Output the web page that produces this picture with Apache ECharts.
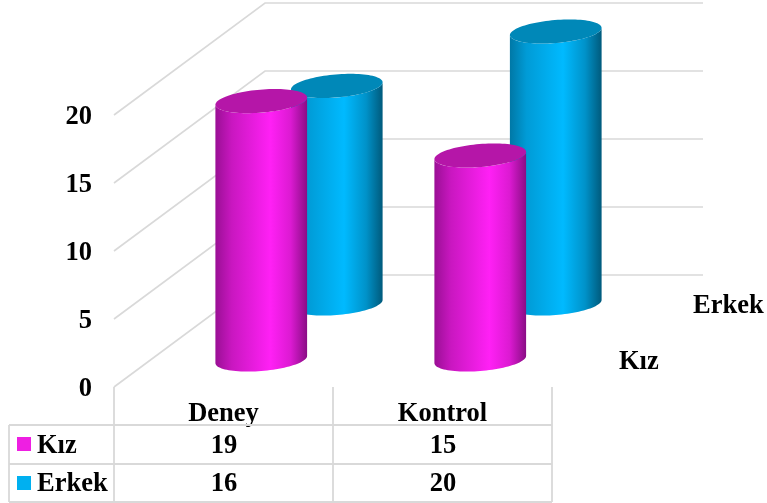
<!DOCTYPE html>
<html><head><meta charset="utf-8">
<style>html,body{margin:0;padding:0;background:#fff}#c{width:767px;height:503px}</style>
<script src="https://cdn.jsdelivr.net/npm/echarts@6/dist/echarts.min.js"></script>
</head><body><div id="c"></div>
<script>
var categories = ['Deney', 'Kontrol'];
var kiz = [19, 15];
var erkek = [16, 20];
var seriesNames = ['Kız', 'Erkek'];
var yTicks = [0, 5, 10, 15, 20];

var FONT = '"Liberation Serif"';
var FS = 26.5;
var DX = 151, DY = 112;          // depth of the 3D box
var GRID = '#d9d9d9';
var A = 46, B = 11.5, TILT = -4.8 * Math.PI / 180, CYL_DY = 0.5;
var styles = {
  'Kız': {key:'#EE1FE2', top:'#B516A8', stops:[[0,'#9a0f95'],[0.18,'#c917c0'],[0.6,'#ff20f5'],[0.82,'#dc1ad2'],[1,'#8a0d85']]},
  'Erkek': {key:'#00B0F0', top:'#0088B8', stops:[[0,'#0078a6'],[0.18,'#009bd6'],[0.58,'#00baff'],[0.82,'#0092c9'],[1,'#005a7c']]}
};
function ell(cx, cy, t){
  return [cx + A*Math.cos(t)*Math.cos(TILT) - B*Math.sin(t)*Math.sin(TILT),
          cy + A*Math.cos(t)*Math.sin(TILT) + B*Math.sin(t)*Math.cos(TILT)];
}
function cylinderSeries(name, values, depthFrac){
  var s = styles[name];
  return {
    type:'custom', name:name, coordinateSystem:'cartesian2d', silent:true,
    data: values.map(function(v,i){return [i,v];}),
    encode:{x:0,y:1},
    renderItem:function(params, api){
      var base = api.coord([api.value(0),0]);
      var top = api.coord([api.value(0),api.value(1)]);
      var ox = DX*depthFrac, oy = -DY*depthFrac + CYL_DY;
      var cx = base[0]+ox, by = base[1]+oy, ty = top[1]+oy;
      var tR = Math.atan(-(B/A)*Math.tan(TILT)), tL = tR+Math.PI, n = 48, i, pts = [], cap = [];
      for(i=0;i<=n;i++) pts.push(ell(cx,by,tR+(tL-tR)*i/n));
      for(i=n;i>=0;i--) pts.push(ell(cx,ty,tR+(tL-tR)*i/n));
      for(i=0;i<96;i++) cap.push(ell(cx,ty,2*Math.PI*i/96));
      return {type:'group',children:[
        {type:'polygon',shape:{points:pts},style:{fill:new echarts.graphic.LinearGradient(0,0,1,0,
          s.stops.map(function(x){return {offset:x[0],color:x[1]};}))}},
        {type:'polygon',shape:{points:cap},style:{fill:s.top}}
      ]};
    }
  };
}
var wallSeries = {
  type:'custom', silent:true, coordinateSystem:'cartesian2d', z:1,
  data: yTicks.map(function(v){return [0,v];}),
  encode:{y:1},
  renderItem:function(params, api){
    var g = params.coordSys, v = api.value(1), y = api.coord([0,v])[1];
    return {type:'group',children:[
      {type:'polyline',shape:{points:[[g.x,y],[g.x+DX,y-DY],[g.x+g.width+DX,y-DY]]},
        style:{stroke:GRID,lineWidth:1.6,fill:null}},
      {type:'text',x:g.x-22,y:y+2.5,style:{text:String(v),font:'bold '+FS+'px '+FONT,fill:'#000',textAlign:'right',textVerticalAlign:'middle'}}
    ]};
  }
};

var X0=9,X1=114,X2=333,X3=552,Y0=387,Y1=425,Y2=464,Y3=502;
function ln(a,b,c,d){return {type:'line',silent:true,z:5,shape:{x1:a,y1:b,x2:c,y2:d},style:{stroke:GRID,lineWidth:1.8}};}
function tx(s,x,y,align){return {type:'text',silent:true,z:6,x:x,y:y,style:{text:s,font:'bold '+FS+'px '+FONT,fill:'#000',textAlign:align||'center',textVerticalAlign:'middle'}};}
var gfx = [
  ln(X0,Y1,X3,Y1),ln(X0,Y2,X3,Y2),ln(X0,Y3,X3,Y3),
  ln(X0,Y1,X0,Y3),ln(X1,Y0,X1,Y3),ln(X2,Y0,X2,Y3),ln(X3,Y0,X3,Y3),
  {type:'rect',silent:true,z:6,shape:{x:17,y:437,width:14,height:14},style:{fill:styles['Kız'].key}},
  {type:'rect',silent:true,z:6,shape:{x:17,y:476,width:14,height:14},style:{fill:styles['Erkek'].key}},
  tx(seriesNames[0],37,446.5,'left'),tx(seriesNames[1],37,484.5,'left'),
  tx(String(kiz[0]),224,446.5),tx(String(kiz[1]),443,446.5),
  tx(String(erkek[0]),224,484.5),tx(String(erkek[1]),443,484.5),
  tx(seriesNames[1],693,306,'left'),tx(seriesNames[0],619,362,'left')
];

var chart = echarts.init(document.getElementById('c'),null,{renderer:'canvas'});
chart.setOption({
  animation:false, backgroundColor:'#fff',
  grid:{left:X1,top:115,width:X3-X1,height:Y0-115,containLabel:false},
  xAxis:{type:'category',data:categories,axisLine:{show:false},axisTick:{show:false},splitLine:{show:false},
    axisLabel:{fontFamily:FONT,fontWeight:'bold',fontSize:FS,color:'#000',margin:14,interval:0}},
  yAxis:{type:'value',min:0,max:20,interval:5,axisLine:{show:false},axisTick:{show:false},splitLine:{show:false},
    axisLabel:{show:false}},
  graphic:gfx,
  series:[wallSeries,
    Object.assign(cylinderSeries('Erkek',erkek,0.75),{z:2}),
    Object.assign(cylinderSeries('Kız',kiz,0.25),{z:3})]
});
</script></body></html>
